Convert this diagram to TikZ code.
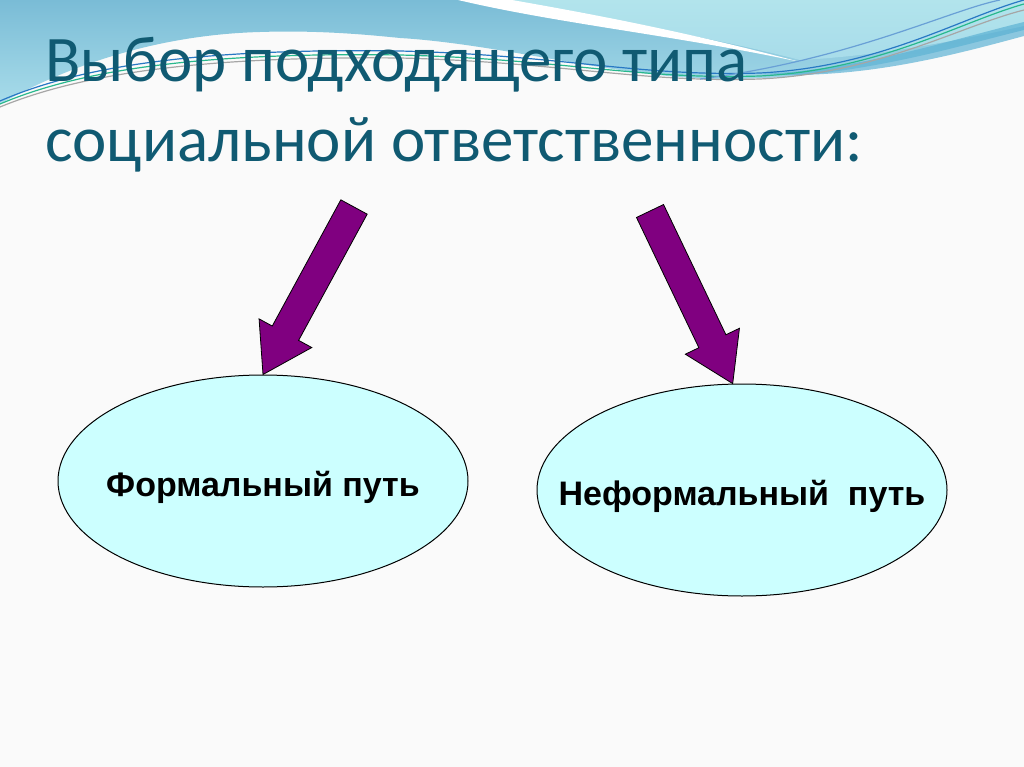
\documentclass[tikz,border=0pt]{standalone}
\usepackage{fontspec}
\usetikzlibrary{shapes.geometric,calc}

\newfontfamily\titlefont{Carlito}
\newfontfamily\ovalfont{Liberation Sans}

\definecolor{slidebg}{RGB}{250,250,250}
\definecolor{titleteal}{RGB}{16,90,114}
\definecolor{arrowpurple}{RGB}{128,0,128}
\definecolor{ovalcyan}{RGB}{204,255,255}
\definecolor{bannertop}{RGB}{122,188,214}
\definecolor{bannerlow}{RGB}{168,220,234}
\definecolor{bannercyan}{RGB}{178,228,236}
\definecolor{bandblue}{RGB}{92,178,212}
\definecolor{wavegreen}{RGB}{40,184,140}
\definecolor{waveblue}{RGB}{40,120,196}

% fat block arrow from #1 (tail centre) to #2 (tip)
\newcommand\fatarrow[2]{%
    \coordinate (fa-h) at ($(#2)!47pt!(#1)$);
    \filldraw[blockarrow] ($(#1)!15pt!90:(#2)$) -- ($(fa-h)!15pt!90:(#2)$)
        -- ($(fa-h)!30pt!90:(#2)$) -- (#2) -- ($(fa-h)!30pt!-90:(#2)$)
        -- ($(fa-h)!15pt!-90:(#2)$) -- ($(#1)!15pt!-90:(#2)$) -- cycle;}
% text of an oval, kept from widening the ellipse
\newcommand\ovaltext[1]{\makebox[0pt]{#1}}

\begin{document}
\begin{tikzpicture}[x=1pt, y=-1pt,
    oval/.style={ellipse, draw=black, line width=1pt, fill=ovalcyan,
        minimum width=410pt, minimum height=212pt, inner sep=0pt,
        text height=30pt, text depth=0pt,
        font=\ovalfont\bfseries\fontsize{34}{38}\selectfont},
    heading/.style={anchor=base west, inner sep=0pt, text=titleteal,
        font=\titlefont\fontsize{65}{78}\selectfont},
    blockarrow/.style={fill=arrowpurple, draw=black, line width=0.8pt, line join=miter},
    wave/.style={line width=1.2pt}]

    % slide background
    \fill[slidebg] (0,0) rectangle (1024,767);
    \useasboundingbox (0,0) rectangle (1024,767);

    % Banner at the top
    \shade[top color=bannertop, bottom color=bannerlow]
        (0,0) -- (1024,0) -- (1024,30)
        .. controls (950,48) and (850,80) .. (720,79)
        .. controls (620,78) and (500,44) .. (400,38)
        .. controls (370,35) and (320,30) .. (260,32)
        .. controls (150,35) and (60,70) .. (0,104) -- cycle;
    % lighter part above the swoosh
    \shade[top color=bannercyan, bottom color=bannerlow]
        (505,0) .. controls (600,20) and (700,34) .. (800,60)
        .. controls (880,56) and (960,40) .. (1024,26) -- (1024,0) -- cycle;
    % white swoosh
    \fill[white] (458,0) .. controls (560,24) and (680,36) .. (800,62)
        .. controls (680,30) and (580,12) .. (512,0) -- cycle;
    % deeper band at the right
    \fill[bandblue, opacity=0.7] (760,74) .. controls (860,70) and (950,40) .. (1024,22)
        -- (1024,36) .. controls (950,56) and (860,80) .. (760,74) -- cycle;

    % thin wave lines
    \draw[wave, waveblue] (0,101) .. controls (80,66) and (200,48) .. (400,51)
        .. controls (560,55) and (640,77) .. (760,73)
        .. controls (880,67) and (960,18) .. (1024,0);
    \draw[wave, wavegreen] (0,104) .. controls (80,70) and (200,52) .. (400,55)
        .. controls (560,59) and (640,80) .. (760,76)
        .. controls (880,70) and (960,22) .. (1024,4);
    \draw[wave, gray!70] (0,107) .. controls (80,74) and (200,56) .. (400,58)
        .. controls (560,62) and (640,83) .. (760,79)
        .. controls (880,73) and (960,26) .. (1024,10);
    \draw[wave, waveblue!70] (700,79) .. controls (850,60) and (950,10) .. (1000,0);

    % Title
    \node[heading] (title1) at (45,82) {Выбор подходящего типа};
    \node[heading] (title2) at (45,162) {социальной ответственности:};

    % the two ways
    \node[oval] (formal) at (263,481) {\ovaltext{Формальный путь}};
    \node[oval] (informal) at (742,490) {\ovaltext{Неформальный\ \ путь}};

    % arrows from the title down to the ovals
    \coordinate (tailL) at (354,207);
    \coordinate (tailR) at (650,211);
    \fatarrow{tailL}{formal.north}
    \fatarrow{tailR}{informal.95}

\end{tikzpicture}
\end{document}
